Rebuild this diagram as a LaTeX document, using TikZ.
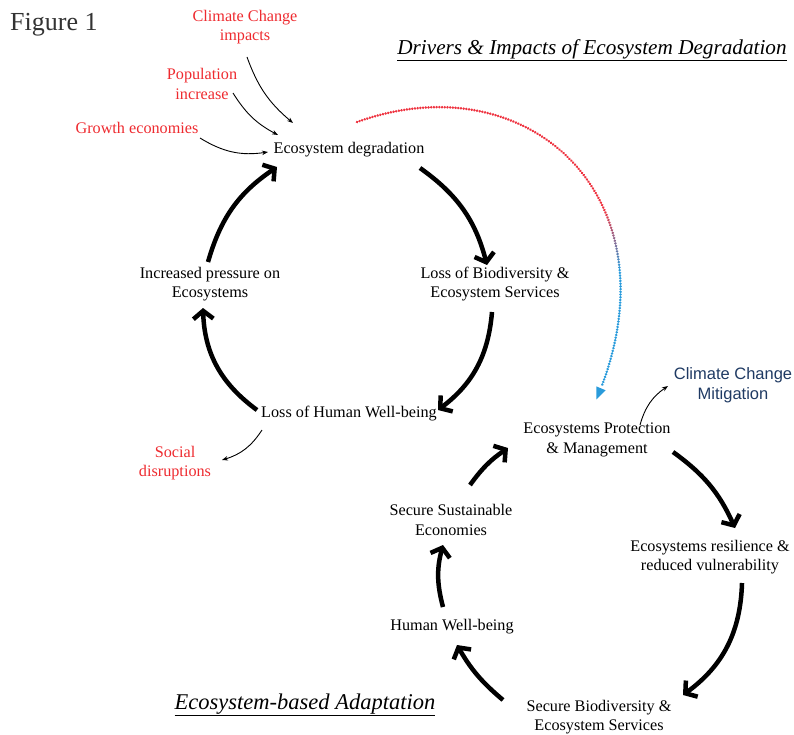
\documentclass[tikz,border=0pt]{standalone}
\usepackage{fontspec}
\setmainfont{Liberation Serif}
\setsansfont{Liberation Sans}
\usetikzlibrary{arrows.meta}
\usetikzlibrary{decorations.markings}

\definecolor{drvred}{HTML}{EE2A2F}
\definecolor{mitblue}{HTML}{1F3A63}
\definecolor{dotred}{HTML}{EE3340}
\definecolor{dotblue}{HTML}{2A9BDB}
\definecolor{figgray}{HTML}{333333}

\begin{document}
\begin{tikzpicture}[x=1pt, y=-1pt]

\def\fsz{16.2}
\def\bnd{20}

\tikzset{stage/.style={align=center, inner sep=0pt, font=\fontsize{\fsz}{19.5}\selectfont}}
\tikzset{driver/.style={stage, text=drvred}}
\tikzset{heading/.style={inner sep=0pt, font=\itshape\fontsize{21.2}{25}\selectfont}}
\tikzset{cycarrow/.style={line width=4.5pt, -{Straight Barb[length=8pt,width=20pt]}}}
\tikzset{thinarrow/.style={line width=0.9pt, -{Stealth[length=6pt,width=4.5pt]}}}
\tikzset{fadedots/.style={decoration={markings,
    mark=between positions 0 and 0.97 step 2.7pt with {
      \pgfmathsetmacro\dotfrac{\pgfkeysvalueof{/pgf/decoration/mark info/distance from start}/\pgfdecoratedpathlength}
      \pgfmathsetmacro\dotmix{max(0,min(100,(\dotfrac*100-60)*8))}
      \fill[dotblue!\dotmix!dotred] (0,0) circle (1.4pt);},
    mark=at position 0.995 with {\fill[dotblue] (2,0) -- (-10,5) -- (-10,-5) -- cycle;}},
    postaction={decorate}}}

\useasboundingbox (0,0) rectangle (794,735);

%titles
\node[anchor=west, inner sep=0pt, text=figgray, font=\fontsize{26}{30}\selectfont] (fig) at (10,25) {Figure 1};
\node[heading] (ttlA) at (592,50) {\underline{Drivers \& Impacts of Ecosystem Degradation}};
\node[heading, font=\itshape\fontsize{22.5}{26}\selectfont] (ttlB) at (305,705) {\underline{Ecosystem-based Adaptation}};

%degradation cycle
\node[stage] (deg) at (349,150) {Ecosystem degradation};
\node[stage] (bio) at (495,284) {Loss of Biodiversity \&\\Ecosystem Services};
\node[stage] (hum) at (349,414) {Loss of Human Well-being};
\node[stage] (inc) at (210,284) {Increased pressure on\\Ecosystems};

\draw[cycarrow] ([shift={(71,18)}]deg.center) to[bend left=\bnd] ([shift={(-8,-19)}]bio.center);
\draw[cycarrow] ([shift={(-3,28)}]bio.center) to[bend left=24] ([shift={(89,-4)}]hum.center);
\draw[cycarrow] ([shift={(-92,-4)}]hum.center) to[bend left=26] ([shift={(-7,24)}]inc.center);
\draw[cycarrow] ([shift={(-2,-22)}]inc.center) to[bend left=\bnd] ([shift={(-72,17)}]deg.center);

%drivers and impacts
\node[driver] (cci) at (245,27) {Climate Change\\impacts};
\node[driver] (pop) at (202,84) {Population\\increase};
\node[driver] (grow) at (137,128) {Growth economies};
\node[driver] (soc) at (175,463) {Social\\disruptions};

\draw[thinarrow] ([shift={(2,30)}]cci.center) to[bend right=15] ([shift={(-56,-27)}]deg.center);
\draw[thinarrow] ([shift={(31,9)}]pop.center) to[bend right=15] ([shift={(-71,-15)}]deg.center);
\draw[thinarrow] ([shift={(63,10)}]grow.center) to[bend right=\bnd] ([shift={(-81,2)}]deg.center);
\draw[thinarrow] ([shift={(-87,16)}]hum.center) to[bend left=\bnd] ([shift={(47,-3)}]soc.center);

%adaptation cycle
\node[stage] (prot) at (597,440) {Ecosystems Protection\\\& Management};
\node[stage] (res) at (710,557) {Ecosystems resilience \&\\reduced vulnerability};
\node[stage] (sbio) at (599,717) {Secure Biodiversity \&\\Ecosystem Services};
\node[stage] (hwb) at (452,627) {Human Well-being};
\node[stage] (sse) at (451,520) {Secure Sustainable\\Economies};

\draw[cycarrow] ([shift={(76,12)}]prot.center) to[bend left=15] ([shift={(25,-29)}]res.center);
\draw[cycarrow] ([shift={(32,26)}]res.center) to[bend left=26] ([shift={(84,-22)}]sbio.center);
\draw[cycarrow] ([shift={(-96,-17)}]sbio.center) to[bend left=10] ([shift={(5,18)}]hwb.center);
\draw[cycarrow] ([shift={(-9,-20)}]hwb.center) to[bend left=15] ([shift={(-8,25)}]sse.center);
\draw[cycarrow] ([shift={(19,-35)}]sse.center) to[bend left=10] ([shift={(-89,8)}]prot.center);

%mitigation
\node[align=center, inner sep=0pt, text=mitblue, font=\sffamily\fontsize{16.5}{20}\selectfont] (ccm) at (733,385) {Climate Change\\Mitigation};
\draw[thinarrow] ([shift={(43,-15)}]prot.center) to[bend left=\bnd] ([shift={(-65,1)}]ccm.center);

%link between cycles
\path[fadedots] ([shift={(8,-28)}]deg.center) .. controls (530,60) and (680,200) .. ([shift={(0,-42)}]prot.center);

\end{tikzpicture}
\end{document}
